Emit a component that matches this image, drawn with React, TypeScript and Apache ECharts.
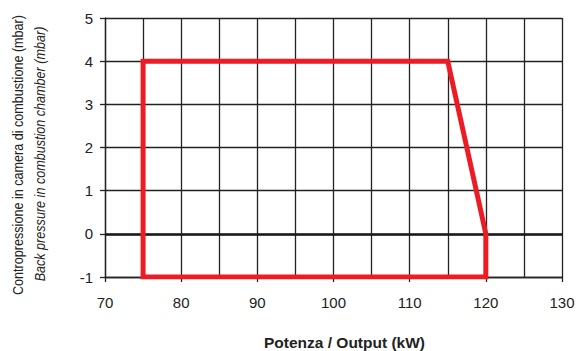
import React, { useEffect, useRef } from "react";
import * as echarts from "echarts";

const xTicks = [70, 80, 90, 100, 110, 120, 130];
const yRange = [-1, 5];
const envelopeX = [75, 75, 115, 120, 120, 75];
const envelopeY = [-1, 4, 4, 0, -1, -1];
const xTitle = "Potenza / Output (kW)";
const yTitle1 = "Contropressione in camera di combustione (mbar)";
const yTitle2 = "Back pressure in combustion chamber (mbar)";

export default function App() {
  const ref = useRef<HTMLDivElement>(null);
  useEffect(() => {
    if (!ref.current) return;
    const chart = echarts.init(ref.current, undefined, { renderer: "svg" });
    const font = "Liberation Sans, Arial, Helvetica, sans-serif";
    const lineColor = "#222";
    chart.setOption({
      animation: false,
      backgroundColor: "#fff",
      textStyle: { fontFamily: font },
      grid: { left: 105, right: 17, top: 18, bottom: 74, outerBoundsMode: "none", containLabel: false },
      xAxis: {
        type: "value",
        min: xTicks[0],
        max: xTicks[xTicks.length - 1],
        interval: 10,
        axisLine: { show: true, onZero: false, lineStyle: { color: lineColor, width: 1.3 } },
        axisTick: { show: true, length: 5, lineStyle: { color: lineColor, width: 1.3 } },
        axisLabel: { margin: 18, fontSize: 15, color: "#222", fontFamily: font },
        splitLine: { show: true, lineStyle: { color: lineColor, width: 1.3 } },
        minorTick: { show: false, splitNumber: 2 },
        minorSplitLine: { show: true, lineStyle: { color: lineColor, width: 1.3 } },
      },
      yAxis: {
        type: "value",
        min: yRange[0],
        max: yRange[1],
        interval: 1,
        axisLine: { show: true, lineStyle: { color: lineColor, width: 1.3 } },
        axisTick: { show: true, length: 5, lineStyle: { color: lineColor, width: 1.3 } },
        axisLabel: { margin: 12, fontSize: 15, color: "#222", fontFamily: font },
        splitLine: { show: true, lineStyle: { color: lineColor, width: 1.3 } },
      },
      series: [
        {
          type: "line",
          data: [],
          z: 1,
          markLine: {
            silent: true,
            symbol: "none",
            label: { show: false },
            lineStyle: { color: "#1a1a1a", width: 2.6, type: "solid" },
            data: [{ yAxis: 0 }],
          },
        },
        {
          type: "line",
          z: 5,
          showSymbol: false,
          symbol: "none",
          data: envelopeX.map((x, i) => [x, envelopeY[i]]),
          lineStyle: { color: "#ed1c24", width: 5, join: "miter", cap: "square" },
        },
      ],
      graphic: [
        {
          type: "text",
          left: 264,
          top: 334,
          style: { text: xTitle, fontSize: 15.5, fontWeight: "bold", fill: "#222", fontFamily: font },
        },
        {
          type: "text",
          x: 18,
          y: 155,
          rotation: Math.PI / 2,
          scaleX: 0.84,
          style: { text: yTitle1, fontSize: 15, fill: "#222", fontFamily: font, align: "center", verticalAlign: "middle" },
        },
        {
          type: "text",
          x: 40,
          y: 154,
          rotation: Math.PI / 2,
          scaleX: 0.84,
          style: { text: yTitle2, fontSize: 15, fontStyle: "italic", fill: "#222", fontFamily: font, align: "center", verticalAlign: "middle" },
        },
      ],
    });
    return () => chart.dispose();
  }, []);
  return <div ref={ref} style={{ position: "absolute", left: 0, top: 0, width: 579, height: 351 }} />;
}
